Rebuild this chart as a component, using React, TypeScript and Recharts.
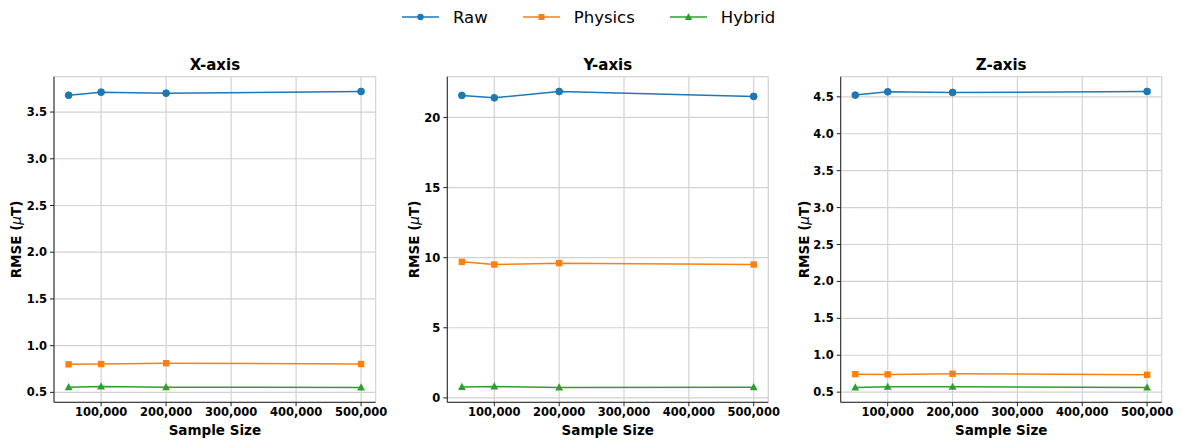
import { LineChart, Line, XAxis, YAxis, CartesianGrid, Label } from 'recharts';

const sampleSizes = [50000, 100000, 200000, 500000];
const xTicks = [100000, 200000, 300000, 400000, 500000];

// RMSE per axis
const xRaw = [3.68, 3.713, 3.702, 3.72];
const xPhysics = [0.8, 0.803, 0.812, 0.803];
const xHybrid = [0.556, 0.562, 0.555, 0.552];

const yRaw = [21.57, 21.4, 21.85, 21.5];
const yPhysics = [9.7, 9.51, 9.61, 9.51];
const yHybrid = [0.78, 0.81, 0.74, 0.76];

const zRaw = [4.523, 4.568, 4.559, 4.572];
const zPhysics = [0.744, 0.74, 0.749, 0.735];
const zHybrid = [0.563, 0.572, 0.572, 0.563];

const xAxisTicks = [0.5, 1.0, 1.5, 2.0, 2.5, 3.0, 3.5];
const yAxisTicks = [0, 5, 10, 15, 20];
const zAxisTicks = [0.5, 1.0, 1.5, 2.0, 2.5, 3.0, 3.5, 4.0, 4.5];

const BLUE = '#1f77b4';
const ORANGE = '#ff7f0e';
const GREEN = '#2ca02c';
const FONT = '"DejaVu Sans", sans-serif';

const buildRows = (raw: number[], physics: number[], hybrid: number[]) =>
  sampleSizes.map((n, i) => ({ n, raw: raw[i], physics: physics[i], hybrid: hybrid[i] }));

const padded = (vals: number[]): [number, number] => {
  const lo = Math.min(...vals);
  const hi = Math.max(...vals);
  const m = (hi - lo) * 0.05;
  return [lo - m, hi + m];
};

const CircleDot = (p: any) => (
  <circle key={`c-${p.index}`} cx={p.cx} cy={p.cy} r={3.4} fill={BLUE} stroke={BLUE} />
);
const SquareDot = (p: any) => (
  <rect key={`s-${p.index}`} x={p.cx - 3.2} y={p.cy - 3.2} width={6.4} height={6.4} fill={ORANGE} />
);
const TriangleDot = (p: any) => (
  <polygon
    key={`t-${p.index}`}
    points={`${p.cx},${p.cy - 4.2} ${p.cx - 3.9},${p.cy + 3} ${p.cx + 3.9},${p.cy + 3}`}
    fill={GREEN}
  />
);

const tickStyle = { fontFamily: FONT, fontSize: 11.5, fontWeight: 'bold', fill: '#000' };

interface PanelProps {
  title: string;
  left: number;
  width: number;
  axisWidth: number;
  labelOffset: number;
  rightPad: number;
  raw: number[];
  physics: number[];
  hybrid: number[];
  ticks: number[];
  fmt: (v: number) => string;
}

function Panel({ title, left, width, axisWidth, labelOffset, rightPad, raw, physics, hybrid, ticks, fmt }: PanelProps) {
  const data = buildRows(raw, physics, hybrid);
  const domain = padded([...raw, ...physics, ...hybrid]);
  const plotLeft = axisWidth;
  const plotWidth = width - axisWidth - rightPad;

  return (
    <div style={{ position: 'absolute', left, top: 50, width, height: 396 }}>
      <div
        style={{
          position: 'absolute',
          left: plotLeft,
          width: plotWidth,
          top: 5,
          textAlign: 'center',
          fontFamily: FONT,
          fontWeight: 'bold',
          fontSize: 15,
          lineHeight: '20px',
        }}
      >
        {title}
      </div>
      <LineChart width={width} height={396} data={data} margin={{ top: 26.7, right: rightPad, bottom: 0, left: 0 }}>
        <CartesianGrid stroke="#d2d2d2" strokeWidth={1.2} />
        <XAxis
          dataKey="n"
          type="number"
          domain={[27500, 522500]}
          ticks={xTicks}
          allowDataOverflow
          height={43.7}
          tickSize={4}
          tickMargin={2}
          stroke="#222"
          tick={tickStyle}
          tickFormatter={(v: number) => v.toLocaleString('en-US')}
        >
          <Label
            content={(p: any) => {
              const vb = p.viewBox;
              return (
                <text
                  x={vb.x + vb.width / 2}
                  y={vb.y + 28}
                  textAnchor="middle"
                  dominantBaseline="central"
                  fontFamily={FONT}
                  fontWeight="bold"
                  fontSize={13.5}
                  fill="#000"
                >
                  Sample Size
                </text>
              );
            }}
          />
        </XAxis>
        <XAxis xAxisId="top" orientation="top" type="number" domain={[0, 1]} height={0} tick={false} tickLine={false} stroke="#222" />
        <YAxis
          type="number"
          domain={domain}
          ticks={ticks}
          allowDataOverflow
          width={axisWidth}
          tickSize={4}
          tickMargin={3}
          stroke="#222"
          tick={tickStyle}
          tickFormatter={fmt}
        >
          <Label
            content={(p: any) => {
              const vb = p.viewBox;
              const lx = vb.x + vb.width - labelOffset;
              const ly = vb.y + vb.height / 2;
              return (
                <text
                  x={lx}
                  y={ly}
                  transform={`rotate(-90 ${lx} ${ly})`}
                  textAnchor="middle"
                  dominantBaseline="central"
                  fontFamily={FONT}
                  fontWeight="bold"
                  fontSize={13.5}
                  fill="#000"
                >
                  RMSE (<tspan fontStyle="italic" fontWeight="normal">μ</tspan>T)
                </text>
              );
            }}
          />
        </YAxis>
        <YAxis yAxisId="right" orientation="right" type="number" domain={[0, 1]} width={0} tick={false} tickLine={false} stroke="#222" />
        <Line dataKey="raw" stroke={BLUE} strokeWidth={1.5} dot={CircleDot} activeDot={false} isAnimationActive={false} />
        <Line dataKey="physics" stroke={ORANGE} strokeWidth={1.5} dot={SquareDot} activeDot={false} isAnimationActive={false} />
        <Line dataKey="hybrid" stroke={GREEN} strokeWidth={1.5} dot={TriangleDot} activeDot={false} isAnimationActive={false} />
      </LineChart>
    </div>
  );
}

const legendItems = [
  { name: 'Raw', color: BLUE, shape: 'circle' },
  { name: 'Physics', color: ORANGE, shape: 'square' },
  { name: 'Hybrid', color: GREEN, shape: 'triangle' },
];

function LegendIcon({ color, shape }: { color: string; shape: string }) {
  return (
    <svg width={37} height={12} style={{ display: 'block' }}>
      <line x1={0} y1={6} x2={37} y2={6} stroke={color} strokeWidth={1.5} />
      {shape === 'circle' && <circle cx={18.5} cy={6} r={3.2} fill={color} />}
      {shape === 'square' && <rect x={15.5} y={3} width={6} height={6} fill={color} />}
      {shape === 'triangle' && <polygon points="18.5,2 14.8,9 22.2,9" fill={color} />}
    </svg>
  );
}

export default function App() {
  const dec1 = (v: number) => v.toFixed(1);
  const int = (v: number) => String(v);
  return (
    <div style={{ position: 'absolute', left: 0, top: 0, width: 1182, height: 446, background: '#fff', fontFamily: FONT }}>
      <div style={{ position: 'absolute', left: 402, top: 6, height: 22, display: 'flex', alignItems: 'center' }}>
        {legendItems.map((it, i) => (
          <div key={it.name} style={{ display: 'flex', alignItems: 'center', marginRight: i < 2 ? 35 : 0 }}>
            <LegendIcon color={it.color} shape={it.shape} />
            <span style={{ marginLeft: 14, fontSize: 16.5, color: '#000' }}>{it.name}</span>
          </div>
        ))}
      </div>
      <Panel title="X-axis" left={0} width={400} axisWidth={54} labelOffset={38.5} rightPad={24.3}
        raw={xRaw} physics={xPhysics} hybrid={xHybrid} ticks={xAxisTicks} fmt={dec1} />
      <Panel title="Y-axis" left={400} width={390} axisWidth={47.3} labelOffset={33.3} rightPad={21.7}
        raw={yRaw} physics={yPhysics} hybrid={yHybrid} ticks={yAxisTicks} fmt={int} />
      <Panel title="Z-axis" left={790} width={392} axisWidth={50.7} labelOffset={37.2} rightPad={20.3}
        raw={zRaw} physics={zPhysics} hybrid={zHybrid} ticks={zAxisTicks} fmt={dec1} />
    </div>
  );
}
